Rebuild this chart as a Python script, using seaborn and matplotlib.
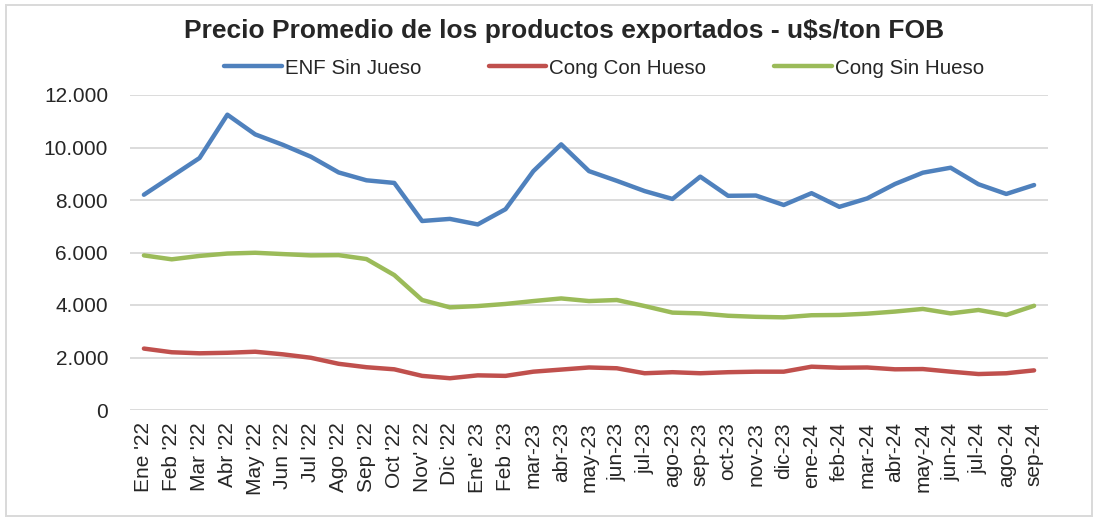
import pandas as pd
import seaborn as sns
import matplotlib.pyplot as plt
from matplotlib.patches import Rectangle
from matplotlib.ticker import FuncFormatter

meses = ["Ene '22", "Feb '22", "Mar '22", "Abr '22", "May '22", "Jun '22", "Jul '22",
         "Ago '22", "Sep '22", "Oct '22", "Nov' 22", "Dic '22", "Ene' 23", "Feb '23",
         "mar-23", "abr-23", "may-23", "jun-23", "jul-23", "ago-23", "sep-23", "oct-23",
         "nov-23", "dic-23", "ene-24", "feb-24", "mar-24", "abr-24", "may-24", "jun-24",
         "jul-24", "ago-24", "sep-24"]

enf_sin_jueso = [8200, 8900, 9600, 11250, 10500, 10100, 9650, 9050, 8750, 8650, 7200,
                 7280, 7070, 7650, 9100, 10120, 9100, 8730, 8340, 8040, 8890, 8160,
                 8170, 7810, 8260, 7740, 8060, 8610, 9040, 9230, 8600, 8230, 8570]
cong_con_hueso = [2340, 2200, 2160, 2180, 2220, 2120, 1990, 1760, 1630, 1550, 1300,
                  1210, 1320, 1300, 1460, 1540, 1620, 1590, 1400, 1440, 1400, 1440,
                  1460, 1460, 1650, 1610, 1620, 1550, 1560, 1460, 1370, 1400, 1510]
cong_sin_hueso = [5890, 5740, 5870, 5960, 5990, 5940, 5890, 5900, 5750, 5140, 4190,
                  3910, 3960, 4040, 4150, 4250, 4150, 4190, 3960, 3710, 3680, 3590,
                  3550, 3530, 3610, 3620, 3670, 3750, 3850, 3680, 3810, 3620, 3970]

series = ["ENF Sin Jueso", "Cong Con Hueso", "Cong Sin Hueso"]
colores = ["#4F81BD", "#C0504D", "#9BBB59"]

df = pd.DataFrame({
    "mes": list(range(len(meses))) * 3,
    "valor": enf_sin_jueso + cong_con_hueso + cong_sin_hueso,
    "serie": [s for s in series for _ in meses],
})

sns.set_style("white")
plt.rcParams['font.family'] = ['Liberation Sans', 'DejaVu Sans']

fig = plt.figure(figsize=(10.98, 5.21), dpi=100)
ax = fig.add_axes([130 / 1098, 1 - 410 / 521, 918 / 1098, 315 / 521])

sns.lineplot(data=df, x="mes", y="valor", hue="serie", hue_order=series,
             palette=colores, linewidth=3.2, ax=ax, legend=True)
for ln in ax.lines:
    ln.set_solid_capstyle('round')
    ln.set_solid_joinstyle('round')

ax.set_xlim(-0.5, len(meses) - 0.5)
ax.set_ylim(0, 12000)
ax.set_yticks(range(0, 12001, 2000))
ax.yaxis.set_major_formatter(FuncFormatter(lambda v, p: f"{int(v):,}".replace(",", ".")))
ax.set_xticks(range(len(meses)))
ax.set_xticklabels(meses, rotation=90, fontsize=15)
ax.tick_params(axis='y', labelsize=15, pad=15.8, length=0)
ax.tick_params(axis='x', length=0, pad=9)
ax.set_xlabel("")
ax.set_ylabel("")
ax.grid(axis='y', color='#d9d9d9', linewidth=1.3)
ax.set_axisbelow(True)
for s in ax.spines.values():
    s.set_visible(False)

handles, labels = ax.get_legend_handles_labels()
ax.legend(handles, labels, ncol=3, frameon=False, fontsize=14.8,
          loc='center', bbox_to_anchor=(604 / 1098, 1 - 68 / 521),
          bbox_transform=fig.transFigure, handlelength=2.8, handletextpad=0.15,
          columnspacing=3.3)

fig.text(564 / 1098, 1 - 31 / 521, "Precio Promedio de los productos exportados - u$s/ton FOB",
         ha='center', va='center', fontsize=19, fontweight='bold')

fig.patches.append(Rectangle((6 / 1098, 5 / 521), 1086 / 1098, 511 / 521,
                             transform=fig.transFigure, fill=False,
                             edgecolor='#d9d9d9', linewidth=1.4))

fig.savefig("out.png", dpi=100)
